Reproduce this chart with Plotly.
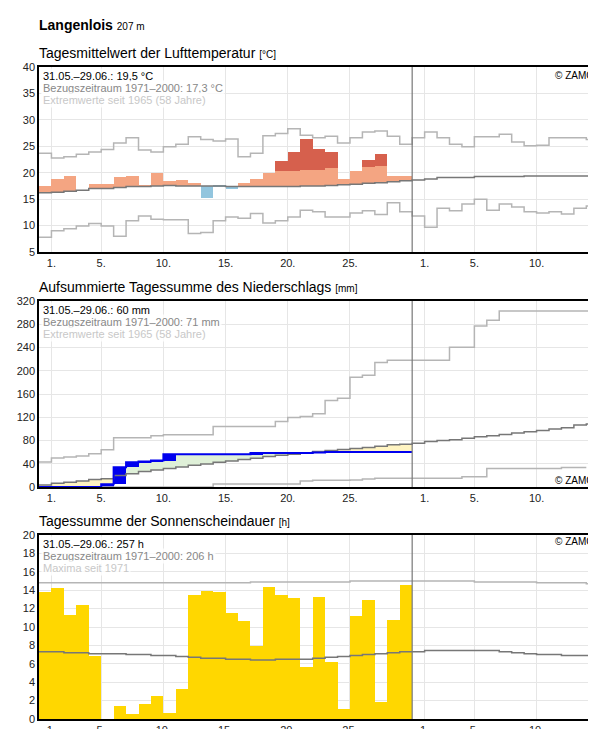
import plotly.graph_objects as go

N_OBS = 30
# Temperature (°C), day index 0 = 31.05.
temp_obs = [17.4,18.9,19.3,16.7,17.9,17.9,19.1,19.4,17.7,20.0,18.5,18.7,18.1,15.3,17.3,17.1,18.1,18.9,20.0,22.3,24.0,26.4,24.4,24.0,18.9,20.4,22.5,23.6,19.4,19.4]
temp_red_from = [None]*19 + [20.4,20.4,20.6,20.6,20.8,None,None,21.1,21.3,None,None]
temp_mean = [16.2,16.3,16.5,16.7,17.0,17.0,17.2,17.4,17.4,17.5,17.6,17.5,17.5,17.5,17.5,17.4,17.4,17.4,17.4,17.4,17.4,17.5,17.5,17.6,17.7,17.8,18.0,18.1,18.3,18.5,
             18.6,18.8,19.1,19.1,19.1,19.3,19.3,19.3,19.3,19.4,19.4,19.4,19.4,19.4,19.4]
temp_max = [23.7,22.8,23.0,23.5,23.9,24.4,25.6,26.6,24.3,23.9,24.9,25.4,26.8,26.3,26.0,26.4,23.0,23.7,27.0,27.4,28.3,27.1,26.6,26.9,25.6,26.6,27.7,27.9,26.9,25.4,
            26.6,27.7,26.6,25.4,24.9,26.8,26.8,27.3,25.8,25.1,25.2,26.6,26.6,26.6,26.3]
temp_min = [7.8,9.0,9.4,9.9,10.4,9.9,8.0,10.9,11.8,11.2,11.1,11.1,8.5,8.7,10.9,11.6,11.4,12.3,10.5,10.9,11.6,12.9,12.6,11.6,11.6,12.4,12.8,12.1,14.3,12.6,
            11.8,9.7,13.3,12.8,14.1,15.0,12.9,14.1,13.5,12.6,12.4,12.6,12.2,13.3,13.7]
# Precipitation cumulative (mm)
prec_obs = [0,0,0,0,0,4.6,34,42.6,43.7,45.5,56.4,56.4,56.4,56.4,56.4,56.4,56.4,58.5,58.5,58.5,58.5,58.5,59.2,60,60,60,60,60,60,60]
prec_mean = [3.5,6.3,8.0,10.4,12.7,14.4,19.6,23.0,26.5,29.4,31.7,34.5,37.4,39.7,42.6,44.9,47.2,49.5,52.4,54.7,56.4,58.7,61.0,62.7,64.5,66.2,67.9,70.2,72.5,73.7,
             75.4,78.3,80.0,81.2,84.0,86.3,88.0,90.4,92.7,95.0,97.3,99.6,101.9,106.5,108.2]
prec_max = [43,50,51.8,53.5,57,63.9,84.6,84.6,84.6,88,89.8,89.8,89.8,89.8,104,104,104,104,104,112.8,119.7,121.4,126,149,152.5,188.8,192.2,214,218,218,
            218,218,218,240.6,240.6,276.8,287,302.7,302.7,302.7,302.7,302.7,302.7,302.7,302.7]
prec_min = [0]*14 + [5.2]*7 + [10.4,11.5,11.5,11.5,12,13.8,15,15,
            15,15,15,15,15,17.8,17.8,31.7,31.7,31.7,31.7,31.7,31.7,33.4,33.4]
# Sunshine (h)
sun_obs = [13.8,14.2,11.3,12.4,6.8,0,1.4,0.5,1.6,2.5,0.65,3.3,13.5,13.9,13.8,11.5,10.6,7.9,14.4,13.5,13.2,5.6,13.3,6.2,1.1,11.2,12.9,1.8,10.8,14.6]
sun_mean = [7.3,7.3,7.2,7.2,7.1,7.1,7.1,7.0,7.0,6.9,6.9,6.8,6.7,6.6,6.6,6.5,6.5,6.4,6.4,6.5,6.5,6.5,6.6,6.7,6.8,6.9,7.0,7.1,7.2,7.3,
            7.3,7.45,7.45,7.45,7.45,7.45,7.45,7.3,7.2,7.1,7.0,7.0,6.9,6.9,6.9]
sun_max = [14.8]*17 + [14.9]*8 + [15.0]*5 + [15.0]*5 + [14.9]*5 + [14.8]*4 + [14.7]
tick_pos = [1,5,10,15,20,25,31,35,40]
tick_txt = ["1.","5.","10.","15.","20.","25.","1.","5.","10."]

fig = go.Figure()
X_END = 45.1
def step(vals, yaxis, color, width=1.5):
    xs = list(range(len(vals)+1)); ys = list(vals)+[vals[-1]]
    fig.add_trace(go.Scatter(x=xs, y=ys, mode="lines", line=dict(shape="hv", color=color, width=width),
                             xaxis="x"+yaxis[1:], yaxis=yaxis, hoverinfo="skip", showlegend=False))
def bars(xs, base, h, color, yaxis):
    fig.add_trace(go.Bar(x=xs, y=h, base=base, width=1, marker=dict(color=color, line=dict(width=0)),
                         xaxis="x"+yaxis[1:], yaxis=yaxis, hoverinfo="skip", showlegend=False))

# Panel 1
xc = [k+0.5 for k in range(N_OBS)]
ob, oh, rb, rh, bb, bh = [], [], [], [], [], []
for k in range(N_OBS):
    o, m, r = temp_obs[k], temp_mean[k], temp_red_from[k]
    if o >= m:
        top = min(o, r) if r is not None else o
        ob.append(m); oh.append(top-m)
        if r is not None and o > r: rb.append(r); rh.append(o-r)
        else: rb.append(0); rh.append(0)
        bb.append(0); bh.append(0)
    else:
        ob.append(0); oh.append(0); rb.append(0); rh.append(0); bb.append(o); bh.append(m-o)
bars(xc, ob, oh, "#f4a582", "y")
bars(xc, rb, rh, "#d6604d", "y")
bars(xc, bb, bh, "#92c5de", "y")
step(temp_max, "y", "#b5b5b5"); step(temp_min, "y", "#b5b5b5"); step(temp_mean, "y", "#777777")

# Panel 2
gb, gh, yb, yh = [], [], [], []
for k in range(N_OBS):
    o, m = prec_obs[k], prec_mean[k]
    if o >= m: gb.append(m); gh.append(o-m); yb.append(0); yh.append(0)
    else: gb.append(0); gh.append(0); yb.append(o); yh.append(m-o)
bars(xc, gb, gh, "#dff0d8", "y2")
bars(xc, yb, yh, "#fff4c2", "y2")
prev = [0]+prec_obs[:-1]
bars(xc, prev, [prec_obs[k]-prev[k] for k in range(N_OBS)], "#0000ee", "y2")
step(prec_max, "y2", "#b5b5b5"); step(prec_min, "y2", "#b5b5b5"); step(prec_mean, "y2", "#777777")
step(prec_obs, "y2", "#0000ee", 2)

# Panel 3
bars(xc, [0]*N_OBS, sun_obs, "#ffd700", "y3")
step(sun_max, "y3", "#b5b5b5"); step(sun_mean, "y3", "#777777")

H = 729; W = 596; L = 31; R = 4; T = 59; B = 18; PH = H-T-B; PW = W-L-R
def fy(px): return (H-B-px)/PH
def fx(px): return (px-L)/PW
doms = [(fy(244), 1.0), (fy(479), fy(293)), (0.0, fy(527))]
ranges = [[5,40],[0,320],[0,20]]
dticks = [5,40,2]
ax = dict(range=[0, X_END], tickvals=tick_pos, ticktext=tick_txt, showgrid=True, gridcolor="#e6e6e6",
          showline=True, linecolor="black", linewidth=1.5, mirror=True, ticks="", tickfont=dict(size=11, color="#222"),
          zeroline=False, fixedrange=True, automargin=False)
lay = {}
for i, (d, r, dt) in enumerate(zip(doms, ranges, dticks)):
    sfx = "" if i == 0 else str(i+1)
    lay["xaxis"+sfx] = dict(ax, anchor="y"+sfx)
    lay["yaxis"+sfx] = dict(domain=list(d), range=r, dtick=dt, anchor="x"+sfx, showgrid=True, gridcolor="#e6e6e6",
                           showline=True, linecolor="black", linewidth=1.5, mirror=True, ticks="", zeroline=False,
                           tickfont=dict(size=11, color="#222"), fixedrange=True, automargin=False)
fig.update_layout(**lay, width=W, height=H, margin=dict(l=L, r=R, t=T, b=B, autoexpand=False), barmode="overlay", bargap=0,
                  plot_bgcolor="white", paper_bgcolor="white", font=dict(family="Arial, Liberation Sans, sans-serif"))
for i in range(3):
    sfx = "" if i == 0 else str(i+1)
    fig.add_shape(type="line", x0=30, x1=30, y0=0, y1=1, xref="x"+sfx, yref="y"+sfx+" domain",
                  line=dict(color="#777777", width=1.2))

def ann(text, x, y, size, color, xanchor="left", bg=None):
    fig.add_annotation(text=text, x=x, y=y, xref="paper", yref="paper", xanchor=xanchor, yanchor="middle",
                       showarrow=False, font=dict(size=size, color=color), bgcolor=bg)
ann("<b>Langenlois</b> <span style='font-size:10px'>207 m</span>", fx(29), fy(17), 14, "black")
titles = [("Tagesmittelwert der Lufttemperatur", "[°C]", 45),
          ("Aufsummierte Tagessumme des Niederschlags", "[mm]", 279),
          ("Tagessumme der Sonnenscheindauer", "[h]", 513)]
for t, u, py in titles:
    ann(f"{t} <span style='font-size:10px'>{u}</span>", fx(29), fy(py), 14, "black")
infos = [["31.05.–29.06.: 19,5 °C", "Bezugszeitraum 1971–2000: 17,3 °C", "Extremwerte seit 1965 (58 Jahre)"],
         ["31.05.–29.06.: 60 mm", "Bezugszeitraum 1971–2000: 71 mm", "Extremwerte seit 1965 (58 Jahre)"],
         ["31.05.–29.06.: 257 h", "Bezugszeitraum 1971–2000: 206 h", "Maxima seit 1971"]]
tops = [59, 293, 527]
cols = ["black", "#888888", "#c8c8c8"]
for info, tp in zip(infos, tops):
    for j, s in enumerate(info):
        ann(s, fx(33), fy(tp+9+j*12), 11, cols[j], bg="rgba(255,255,255,0.8)")
for py in [67, 472, 533]:
    ann("© ZAMG", fx(588), fy(py), 10, "black", xanchor="right")
fig.write_html("out.html")
